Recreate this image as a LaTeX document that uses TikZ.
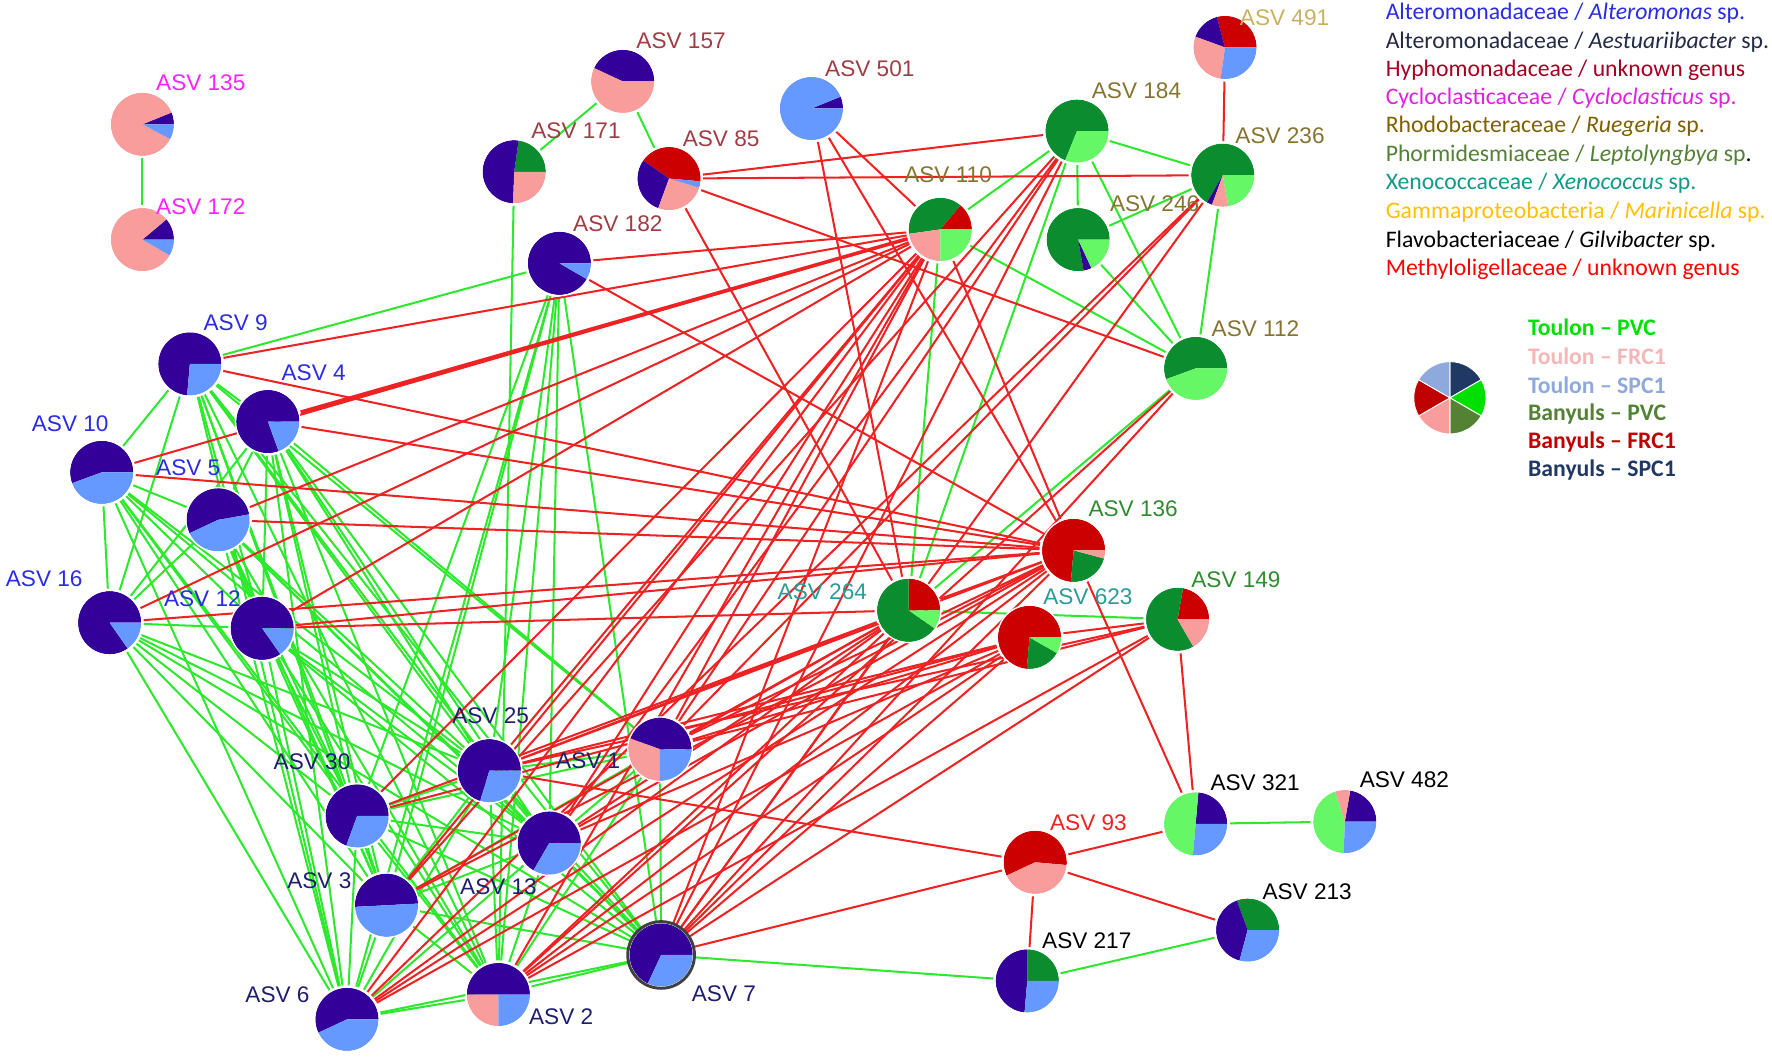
\documentclass[tikz,border=0pt]{standalone}
\usepackage{fontspec}
\setmainfont{Liberation Sans}
\newfontfamily\legfont{Carlito}
\definecolor{ind}{HTML}{330099}
\definecolor{lb}{HTML}{6699FF}
\definecolor{pk}{HTML}{F89C9C}
\definecolor{rd}{HTML}{CC0000}
\definecolor{dg}{HTML}{0B8C2E}
\definecolor{lg}{HTML}{66F766}
\definecolor{edgegreen}{HTML}{2EE82E}
\definecolor{edgered}{HTML}{EE2222}
\definecolor{cAlt}{HTML}{2B2BE6}
\definecolor{cAes}{HTML}{1E1E6E}
\definecolor{cHyp}{HTML}{A03C44}
\definecolor{cCyc}{HTML}{FF22FF}
\definecolor{cRue}{HTML}{857330}
\definecolor{cLep}{HTML}{2E8B2E}
\definecolor{cXen}{HTML}{2A9A9A}
\definecolor{cMar}{HTML}{C9B060}
\definecolor{cMet}{HTML}{EE2222}
\definecolor{tAes}{HTML}{222A44}
\definecolor{tHyp}{HTML}{A50021}
\definecolor{tCyc}{HTML}{E020E0}
\definecolor{tRue}{HTML}{7F6000}
\definecolor{tLep}{HTML}{538135}
\definecolor{tXen}{HTML}{0E9A8A}
\definecolor{tMar}{HTML}{FFC000}
\definecolor{tMet}{HTML}{FF0000}
\definecolor{kTPVC}{HTML}{00E000}
\definecolor{kTFRC}{HTML}{F4B6B6}
\definecolor{kTSPC}{HTML}{8EA9DB}
\definecolor{kBPVC}{HTML}{548235}
\definecolor{kBFRC}{HTML}{C00000}
\definecolor{kBSPC}{HTML}{203864}
\begin{document}
\begin{tikzpicture}[x=1pt,y=-1pt,
  asv/.style={circle,minimum size=60pt,inner sep=0pt},
  lbl/.style={anchor=west,inner sep=0pt,font=\fontsize{20}{24}\selectfont},
  poslink/.style={draw=edgegreen,line width=1.8pt},
  neglink/.style={draw=edgered,line width=1.8pt},
  legtxt/.style={anchor=west,inner sep=0pt,font=\legfont\fontsize{21}{25}\selectfont},
  keytxt/.style={anchor=west,inner sep=0pt,font=\legfont\bfseries\fontsize{21}{25}\selectfont}]
\useasboundingbox (0,0) rectangle (1568,935);
% ASV positions
\foreach \n/\x/\y in {135/126/110,172/126/212,157/551/72,171/455/152,85/592/158,
  182/495/233,501/718/96,491/1084/42,184/953/116,236/1082/155,110/832/203,
  246/954/212,112/1058/326,136/950/487,149/1042/548,264/804/540,623/911/564,
  9/168/322,4/237/373,10/90/418,5/193/460,16/97/551,12/232/556,25/433/682,
  1/584/663,30/316/722,13/486/746,3/342/801,6/307/902,2/441/880,7/585/845,
  93/916/763,321/1058/729,482/1190/727,213/1104/823,217/909/868} {
  \node[asv] (a\n) at (\x,\y) {};
}
% positive links
\foreach \p/\q in {135/172,157/171,157/85,184/110,184/236,184/246,184/112,184/264,
  236/246,236/112,246/112,110/112,110/264,112/264,264/149,321/482,213/217,7/217,
  171/2,182/9,182/30,182/3,182/6,182/25,182/2,182/13,182/7,
  9/10,9/16,9/4,9/12,9/30,9/3,9/6,9/25,9/13,9/2,9/7,9/1,
  4/5,4/16,4/12,4/30,4/3,4/6,4/25,4/13,4/2,4/7,4/1,
  10/16,10/5,10/12,10/30,10/3,10/6,10/25,10/13,10/2,
  5/16,5/12,5/30,5/3,5/6,5/25,5/13,5/2,5/7,
  16/12,16/30,16/3,16/6,16/25,16/13,16/7,
  12/30,12/3,12/6,12/25,12/13,12/2,12/7,
  25/30,25/1,25/13,25/3,25/6,25/2,25/7,30/3,30/6,30/13,30/2,30/7,
  1/13,1/2,1/7,1/3,1/30,13/3,13/6,13/2,13/7,3/6,3/2,3/7,6/2,6/7,2/7} {
  \draw[poslink] (a\p) -- (a\q);
}
% negative links
\foreach \p/\q in {491/236,85/184,85/236,85/112,85/264,501/110,501/136,501/264,
  182/110,182/136,110/136,9/110,9/136,4/136,10/110,10/136,5/110,5/136,
  16/110,16/136,12/110,12/136,12/264,30/110,30/264,30/623,
  25/110,25/136,25/264,25/623,25/93,25/149,
  1/110,1/136,1/264,1/623,1/149,1/184,1/236,
  13/110,13/136,13/264,13/623,13/184,3/110,3/264,3/184,3/136,
  6/110,6/264,6/236,6/623,6/136,2/110,2/264,2/623,2/136,2/112,2/149,
  7/110,7/136,7/264,7/623,7/149,7/93,7/112,7/236,7/184,
  136/264,623/149,136/321,149/321,93/321,93/213,93/217} {
  \draw[neglink] (a\p) -- (a\q);
}
\draw[neglink,line width=3.2pt] (a4) -- (a110);
% pies
\foreach \n/\slices in {135/{0/22/ind,22/332/pk,332/360/lb},
  172/{0/40/ind,40/330/pk,330/360/lb},157/{0/155/ind,155/360/pk},
  171/{0/82/dg,82/268/ind,268/360/pk},85/{-5/145/rd,145/250/ind,250/343/pk,343/355/lb},
  182/{0/330/ind,330/360/lb},501/{0/22/ind,22/360/lb},
  491/{0/105/rd,105/160/ind,160/262/pk,262/360/lb},184/{0/248/dg,248/360/lg},
  236/{0/240/dg,240/250/ind,250/280/pk,280/360/lg},
  110/{0/50/rd,50/188/dg,188/270/pk,270/360/lg},
  246/{0/280/dg,280/295/ind,295/360/lg},112/{0/200/dg,200/360/lg},
  136/{0/265/rd,265/345/dg,345/360/pk},149/{0/80/rd,80/300/dg,300/360/pk},
  264/{0/90/rd,90/325/dg,325/360/lg},623/{0/265/rd,265/330/dg,330/360/lg},
  9/{0/265/ind,265/360/lb},4/{0/290/ind,290/360/lb},10/{0/200/ind,200/360/lb},
  5/{10/205/ind,205/370/lb},16/{0/305/ind,305/360/lb},12/{0/305/ind,305/360/lb},
  25/{0/253/ind,253/360/lb},1/{0/160/ind,160/270/pk,270/360/lb},
  30/{0/250/ind,250/360/lb},13/{0/240/ind,240/360/lb},3/{3/183/ind,183/363/lb},
  6/{0/205/ind,205/360/lb},2/{0/180/ind,180/270/pk,270/360/lb},
  7/{0/245/ind,245/360/lb},93/{-5/205/rd,205/355/pk},
  321/{0/85/ind,85/265/lg,265/360/lb},482/{0/80/ind,80/108/pk,108/268/lg,268/360/lb},
  213/{0/110/dg,110/255/ind,255/360/lb},217/{0/90/dg,90/265/ind,265/360/lb}} {
  \foreach \s/\e/\c in \slices {
    \fill[\c] (a\n.center) -- ++(\s:28pt) arc[start angle=\s,end angle=\e,radius=28pt] -- cycle;
  }
  \draw[white,line width=1.2pt] (a\n.center) circle[radius=28.6pt];
}
\draw[black!75,line width=2.6pt] (a7.center) circle[radius=29.5pt];
% ASV labels
\foreach \n/\dx/\dy/\col in {135/12/-37/cCyc,172/12/-29/cCyc,157/12/-36/cHyp,
  171/15/-36/cHyp,85/12/-35/cHyp,182/12/-35/cHyp,501/12/-35/cHyp,491/13/-26/cMar,
  184/13/-36/cRue,236/11/-35/cRue,110/-32/-48/cRue,246/28/-32/cRue,112/14/-35/cRue,
  136/13/-37/cLep,149/12/-35/cLep,264/-116/-16/cXen,623/12/-36/cXen,
  9/12/-36/cAlt,4/12/-43/cAlt,10/-62/-43/cAlt,5/-55/-46/cAlt,16/-92/-39/cAlt,
  12/-87/-26/cAlt,25/-33/-49/cAes,1/-92/10/cAes,30/-74/-48/cAes,13/-79/39/cAes,
  3/-88/-22/cAes,6/-90/-22/cAes,2/27/20/cAes,7/27/34/cAes,93/13/-35/cMet,
  321/13/-36/black,482/13/-37/black,213/13/-34/black,217/13/-36/black} {
  \node[lbl,text=\col] (l\n) at ([shift={(\dx,\dy)}]a\n.center) {ASV \n};
}
% taxonomy legend
\node[legtxt,text=cAlt] (tax1) at (1226,12) {Alteromonadaceae / \textit{Alteromonas} sp.};
\node[legtxt,text=tAes] (tax2) at (1226,37) {Alteromonadaceae / \textit{Aestuariibacter} sp.};
\node[legtxt,text=tHyp] (tax3) at (1226,62) {Hyphomonadaceae / unknown genus};
\node[legtxt,text=tCyc] (tax4) at (1226,87) {Cycloclasticaceae / \textit{Cycloclasticus} sp.};
\node[legtxt,text=tRue] (tax5) at (1226,112) {Rhodobacteraceae / \textit{Ruegeria} sp.};
\node[legtxt,text=tLep] (tax6) at (1226,137) {Phormidesmiaceae / \textit{Leptolyngbya} sp\textcolor{black}{.}};
\node[legtxt,text=tXen] (tax7) at (1226,162) {Xenococcaceae / \textit{Xenococcus} sp.};
\node[legtxt,text=tMar] (tax8) at (1226,188) {Gammaproteobacteria / \textit{Marinicella} sp.};
\node[legtxt,text=black] (tax9) at (1226,213) {Flavobacteriaceae / \textit{Gilvibacter} sp.};
\node[legtxt,text=tMet] (tax10) at (1226,238) {Methyloligellaceae / unknown genus};
% sample legend
\coordinate (keypie) at (1283,352);
\foreach \s/\e/\c in {30/90/kBSPC,-30/30/kTPVC,-90/-30/kBPVC,-150/-90/pk,150/210/kBFRC,90/150/kTSPC} {
  \fill[\c,draw=white,line width=0.8pt] (keypie) -- ++(\s:32pt) arc[start angle=\s,end angle=\e,radius=32pt] -- cycle;
}
\node[keytxt,text=kTPVC] (key1) at (1352,290) {Toulon – PVC};
\node[keytxt,text=kTFRC] (key2) at (1352,315) {Toulon – FRC1};
\node[keytxt,text=kTSPC] (key3) at (1352,341) {Toulon – SPC1};
\node[keytxt,text=kBPVC] (key4) at (1352,366) {Banyuls – PVC};
\node[keytxt,text=kBFRC] (key5) at (1352,391) {Banyuls – FRC1};
\node[keytxt,text=kBSPC] (key6) at (1352,416) {Banyuls – SPC1};
\end{tikzpicture}
\end{document}
